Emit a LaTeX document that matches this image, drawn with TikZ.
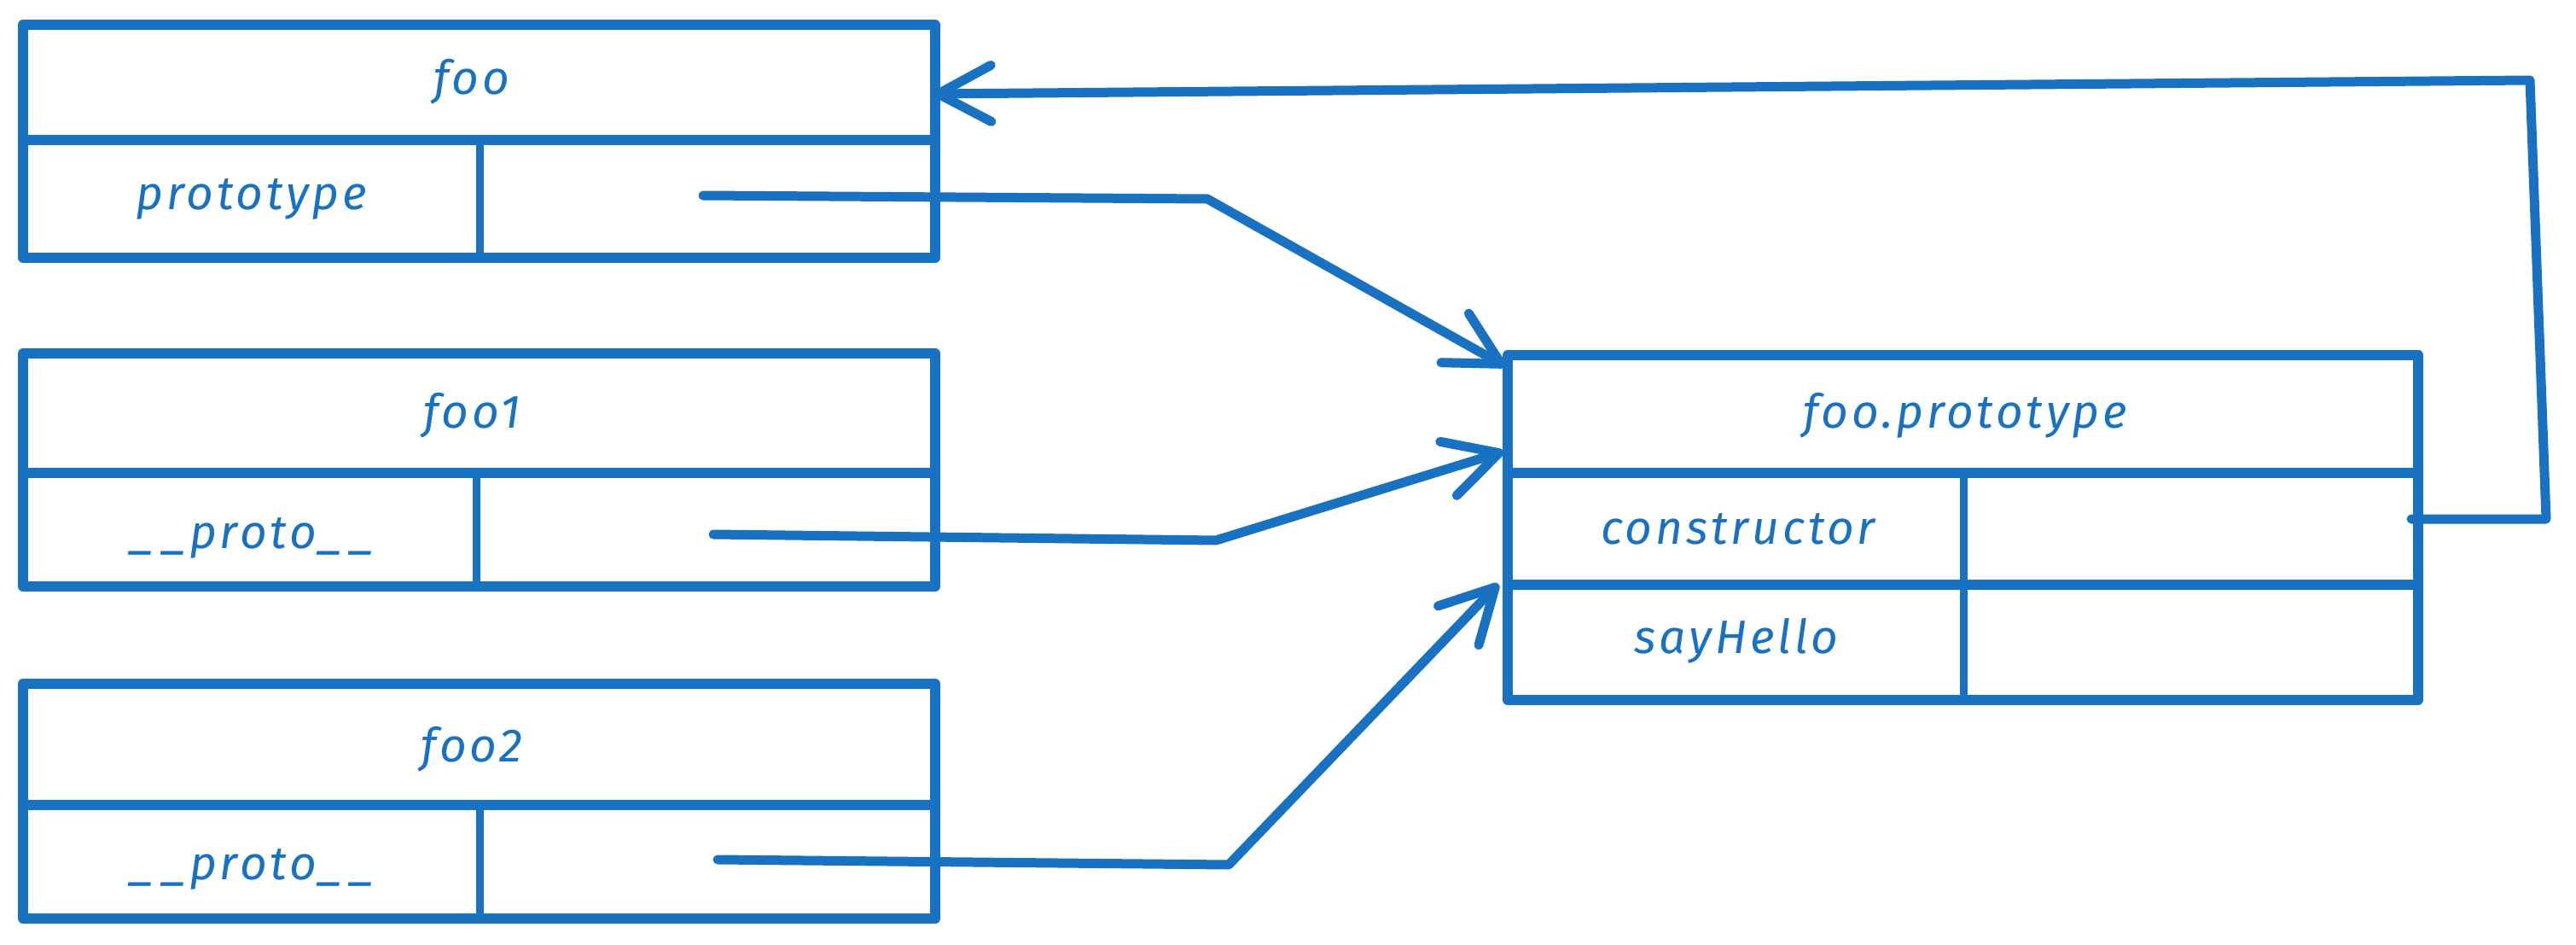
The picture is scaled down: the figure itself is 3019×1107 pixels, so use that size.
\documentclass[tikz,border=0pt]{standalone}
\usepackage{fontspec}
\setmainfont{Fira Sans}[LetterSpace=7]
\usetikzlibrary{arrows.meta}
\definecolor{exblue}{HTML}{1971C2}
\tikzset{
  box/.style={draw=exblue, line width=12pt, line join=round, rectangle, inner sep=0pt, outer sep=0pt},
  divline/.style={draw=exblue, line width=12pt, line cap=round},
  vdivline/.style={draw=exblue, line width=9pt, line cap=round},
  lbl/.style={text=exblue, font=\fontsize{55}{62}\selectfont\itshape, inner sep=0pt, anchor=center},
  conn/.style={draw=exblue, line width=11pt, line cap=round, line join=round, -{Straight Barb[length=62pt,width=66pt,line cap=round,line join=round]}},
}
\begin{document}
\begin{tikzpicture}[x=1pt,y=-1pt]
\useasboundingbox (0,0) rectangle (3019,1107);
% foo
\node[box, minimum width=1069pt, minimum height=273pt] (foo) at (561.5,165.5) {};
\draw[divline] (27,164) -- (1096,164);
\draw[vdivline] (562,164) -- (562,302);
\node[lbl] (fooT) at (553,96) {foo};
\node[lbl] (fooP) at (295,233) {prototype};
% foo1
\node[box, minimum width=1069pt, minimum height=273pt] (foo1) at (561.5,550.5) {};
\draw[divline] (27,554) -- (1096,554);
\draw[vdivline] (558,554) -- (558,687);
\node[lbl] (foo1T) at (553,487) {foo1};
\node[lbl] (foo1P) at (296,630) {\_\,\_proto\_\,\_};
% foo2
\node[box, minimum width=1069pt, minimum height=275pt] (foo2) at (561.5,938.5) {};
\draw[divline] (27,943) -- (1096,943);
\draw[vdivline] (562,943) -- (562,1076);
\node[lbl] (foo2T) at (553,878) {foo2};
\node[lbl] (foo2P) at (296,1018) {\_\,\_proto\_\,\_};
% foo.prototype
\node[box, minimum width=1067pt, minimum height=404pt] (proto) at (2300.5,618) {};
\draw[divline] (1767,554) -- (2834,554);
\draw[divline] (1767,685) -- (2834,685);
\draw[vdivline] (2301,554) -- (2301,820);
\node[lbl] (protoT) at (2303,487) {foo.prototype};
\node[lbl] (protoC) at (2037,620) {constructor};
\node[lbl] (protoS) at (2035,751) {sayHello};
% connector points
\coordinate (s1) at (824,229);
\coordinate (b1) at (1415,233);
\coordinate (t1) at (1764,429);
\coordinate (s2) at (836,626);
\coordinate (b2) at (1425,633);
\coordinate (t2) at (1762,529);
\coordinate (s3) at (841,1007);
\coordinate (b3) at (1440,1013);
\coordinate (t3) at (1756,684);
\coordinate (s4) at (2826,608);
\coordinate (b4a) at (2984,608);
\coordinate (b4b) at (2965,94);
\coordinate (t4) at (1094,110);
\draw[conn] (s1) -- (b1) -- (t1);
\draw[conn] (s2) -- (b2) -- (t2);
\draw[conn] (s3) -- (b3) -- (t3);
\draw[conn] (s4) -- (b4a) -- (b4b) -- (t4);
\end{tikzpicture}
\end{document}
